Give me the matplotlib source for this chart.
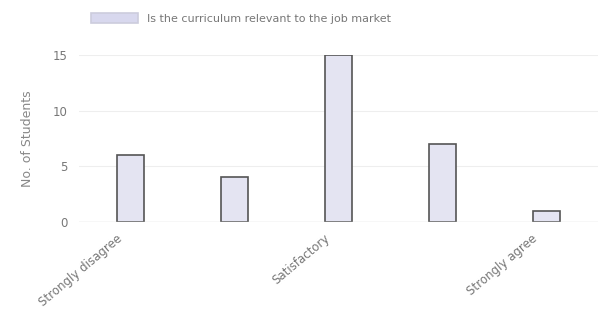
import numpy as np
import matplotlib
matplotlib.use("Agg")
import matplotlib.pyplot as plt
from matplotlib.transforms import ScaledTranslation

# data
categories = ["Strongly disagree", "Disagree", "Satisfactory", "Agree", "Strongly agree"]
counts = [6, 4, 15, 7, 1]
series_name = "Is the curriculum relevant to the job market"

fig = plt.figure(figsize=(6.03, 3.19), dpi=100)
ax = fig.add_axes([0.131, 0.304, 0.861, 0.524])

x = np.arange(len(categories))
ax.bar(x, counts, width=0.26, color="#e4e4f2", edgecolor="#555555", linewidth=1.2,
       label=series_name)

ax.set_xlim(-0.5, len(categories) - 0.5)
ax.set_ylim(0, 15)
ax.set_yticks([0, 5, 10, 15])
ax.tick_params(axis="y", length=0, labelsize=8.5, labelcolor="#777777", pad=8)
ax.tick_params(axis="x", length=0, labelsize=8.5, labelcolor="#777777", pad=7)

# chart.js style auto-skip: only every other category label
ax.set_xticks(x[::2])
ax.set_xticklabels(categories[::2], rotation=40, ha="right", rotation_mode="anchor")
# the labels sit a bit left of their bars in the picture
shift = ScaledTranslation(-0.15, 0, fig.dpi_scale_trans)
for lab in ax.get_xticklabels():
    lab.set_transform(lab.get_transform() + shift)

ax.grid(axis="y", color="#eeeeee", linewidth=0.8)
ax.set_axisbelow(True)
for s in ["top", "right", "left", "bottom"]:
    ax.spines[s].set_visible(False)
ax.axhline(0, color="#dddddd", linewidth=1)

ax.set_ylabel("No. of Students", fontsize=9, color="#888888", labelpad=14)

leg = fig.legend(loc="upper left", bbox_to_anchor=(0.135, 0.99), frameon=False,
                 fontsize=8, handlelength=4.2, handleheight=1.0, labelcolor="#777777")
for h in leg.legend_handles:
    h.set_edgecolor("#ccccdd")
    h.set_facecolor("#d8d8ee")

fig.savefig("out.png", dpi=100, facecolor="white")
